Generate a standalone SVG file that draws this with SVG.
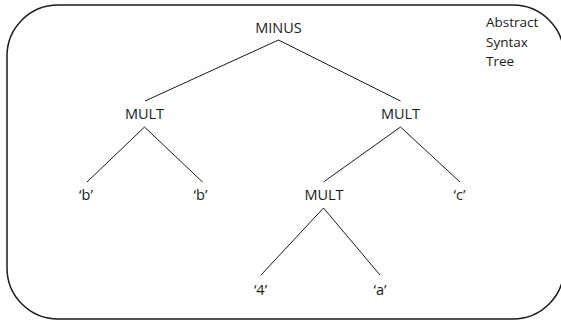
<svg xmlns="http://www.w3.org/2000/svg" width="561" height="322" viewBox="0 0 561 322">
  <style>
    .frame { fill: none; stroke: #1a1a1a; stroke-width: 1.5; }
    .edge { stroke: #1a1a1a; stroke-width: 1; fill: none; }
    .lbl { font-family: "Open Sans", "Liberation Sans", sans-serif; font-size: 14.5px; fill: #1a1a1a; text-anchor: middle; }
    .title { font-family: "Open Sans", "Liberation Sans", sans-serif; font-size: 13.5px; fill: #1a1a1a; }
  </style>
  <rect width="561" height="322" fill="#ffffff"/>
  <!-- rounded outer frame; its right side runs just past the canvas edge -->
  <rect class="frame" x="7" y="5" width="557" height="314" rx="51" ry="51"/>

  <g id="caption">
    <text class="title" x="486" y="27">Abstract</text>
    <text class="title" x="486" y="46.5">Syntax</text>
    <text class="title" x="486" y="65.5">Tree</text>
  </g>

  <g id="connectors">
    <line class="edge" x1="278.5" y1="40" x2="145" y2="101"/>
    <line class="edge" x1="278.5" y1="40" x2="400.5" y2="101"/>
    <line class="edge" x1="144.5" y1="127" x2="87" y2="182"/>
    <line class="edge" x1="144.5" y1="127" x2="202.5" y2="182"/>
    <line class="edge" x1="400.5" y1="127" x2="323.5" y2="182"/>
    <line class="edge" x1="400.5" y1="127" x2="460" y2="182"/>
    <line class="edge" x1="323.5" y1="208" x2="261" y2="275"/>
    <line class="edge" x1="323.5" y1="208" x2="380" y2="275"/>
  </g>

  <g id="minus"><text class="lbl" x="278.5" y="32.5">MINUS</text></g>
  <g id="mult-left"><text class="lbl" x="144.5" y="119">MULT</text></g>
  <g id="mult-right"><text class="lbl" x="400.5" y="119">MULT</text></g>
  <g id="b-left"><text class="lbl" x="86" y="200">‘b’</text></g>
  <g id="b-right"><text class="lbl" x="200.5" y="200">‘b’</text></g>
  <g id="mult-lower"><text class="lbl" x="324" y="200">MULT</text></g>
  <g id="c"><text class="lbl" x="459.5" y="200">‘c’</text></g>
  <g id="four"><text class="lbl" x="260.5" y="295">‘4’</text></g>
  <g id="a"><text class="lbl" x="380" y="295">‘a’</text></g>
</svg>
